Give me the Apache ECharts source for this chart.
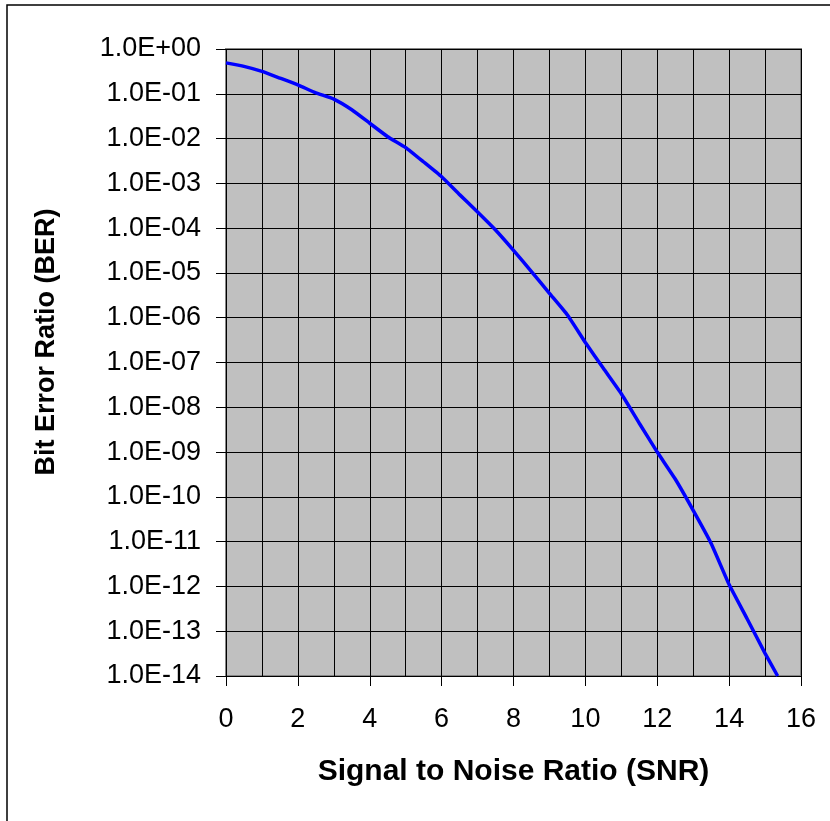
<!DOCTYPE html>
<html>
<head>
<meta charset="utf-8">
<script src="https://cdn.jsdelivr.net/npm/echarts@6/dist/echarts.min.js"></script>
<style>
html,body{margin:0;padding:0;background:#fff;}
#chart{width:830px;height:821px;}
</style>
</head>
<body>
<div id="chart"></div>
<script>
// Signal to Noise Ratio (x) values
const snr = [0, 0.5, 1, 1.5, 2, 2.5, 3, 3.5, 4, 4.5, 5, 5.5, 6, 6.5, 7, 7.5, 8, 8.5, 9, 9.5, 10, 10.5, 11, 11.5, 12, 12.5, 13, 13.5, 14, 14.5, 15, 15.35];
// Bit Error Ratio values
const ber = [0.49, 0.41, 0.316, 0.224, 0.158, 0.105, 0.076, 0.044, 0.022, 0.011, 0.0063, 0.003, 0.0014, 5.6e-4, 2.3e-4, 9.1e-5, 3.2e-5, 1.07e-5, 3.5e-6, 1.15e-6, 2.8e-7, 7.4e-8, 2.0e-8, 4.4e-9, 1.0e-9, 2.5e-10, 5.0e-11, 9.1e-12, 1.1e-12, 1.9e-13, 3.2e-14, 1.0e-14];
const xTitle = 'Signal to Noise Ratio (SNR)';
const yTitle = 'Bit Error Ratio (BER)';

const FONT = '"Liberation Sans", Arial, Helvetica, sans-serif';

function fmtExp(v) {
  const e = Math.round(Math.log10(v));
  const a = Math.abs(e);
  return '1.0E' + (e < 0 ? '-' : '+') + (a < 10 ? '0' + a : '' + a);
}

const chart = echarts.init(document.getElementById('chart'), null, {renderer: 'canvas'});
chart.setOption({
  animation: false,
  backgroundColor: '#ffffff',
  grid: {
    left: 226, right: 29, top: 49, height: 627,
    show: true, backgroundColor: '#c0c0c0', borderColor: '#858585', borderWidth: 2
  },
  graphic: [
    {type: 'rect', shape: {x: 7, y: 5, width: 900, height: 900}, style: {fill: 'none', stroke: '#000', lineWidth: 1.5}, silent: true, z: 100},
    {type: 'text', x: 47, y: 342, rotation: Math.PI / 2,
     style: {text: yTitle, font: 'bold 27px ' + FONT, fill: '#000', textAlign: 'center', textVerticalAlign: 'middle'}}
  ],
  xAxis: {
    type: 'value', min: 0, max: 16, interval: 2,
    name: xTitle, nameLocation: 'middle', nameGap: 81,
    nameTextStyle: {fontFamily: FONT, fontWeight: 'bold', fontSize: 30, color: '#000'},
    axisLine: {show: false},
    axisTick: {show: true, inside: false, length: 10, lineStyle: {color: '#000', width: 1}},
    axisLabel: {fontFamily: FONT, fontSize: 27, color: '#000', margin: 30},
    splitLine: {show: true, lineStyle: {color: '#000', width: 1}},
    minorTick: {show: false, splitNumber: 2},
    minorSplitLine: {show: true, lineStyle: {color: '#000', width: 1}}
  },
  yAxis: {
    type: 'log', logBase: 10, min: 1e-14, max: 1, interval: 1, splitNumber: 14,
    axisLine: {show: false},
    axisTick: {show: true, inside: false, length: 10, lineStyle: {color: '#000', width: 1}},
    axisLabel: {fontFamily: FONT, fontSize: 27, color: '#000', margin: 25, formatter: fmtExp},
    splitLine: {show: true, lineStyle: {color: '#000', width: 1}}
  },
  series: [{
    type: 'line',
    data: snr.map((x, i) => [x, ber[i]]),
    showSymbol: false,
    smooth: 0.15,
    lineStyle: {color: '#0000ff', width: 3.5},
    itemStyle: {color: '#0000ff'},
    clip: true
  }]
});
</script>
</body>
</html>
